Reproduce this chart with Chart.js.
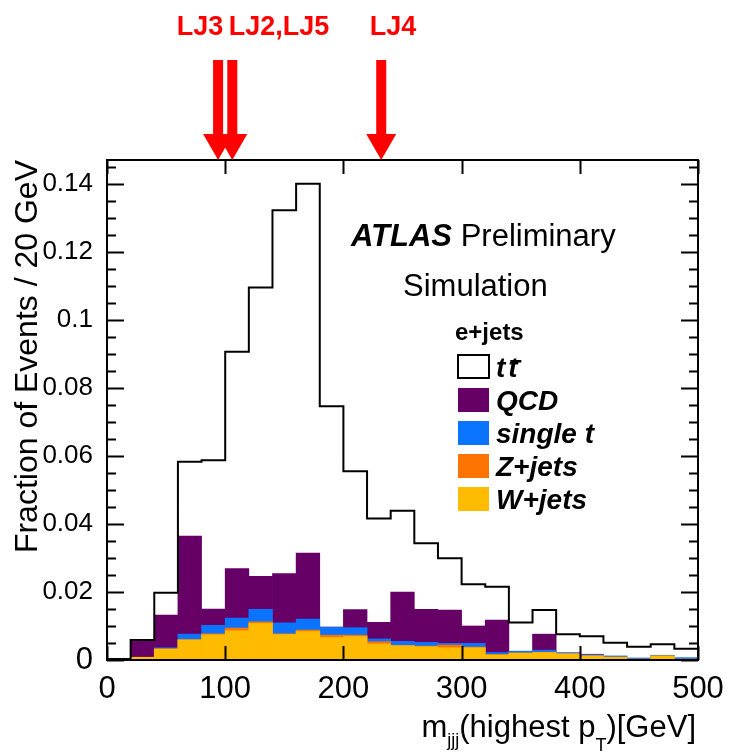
<!DOCTYPE html>
<html>
<head>
<meta charset="utf-8">
<script src="https://cdn.jsdelivr.net/npm/chart.js@4.4.1/dist/chart.umd.min.js"></script>
<style>
  html, body { margin: 0; padding: 0; background: #fff; }
  #wrap { width: 729px; height: 756px; }
</style>
</head>
<body>
<div id="wrap"><canvas id="c" width="729" height="756"></canvas></div>
<script>
// bin edges of m_jjj in GeV (20 GeV bins)
const binEdges = [0, 20, 40, 60, 80, 100, 120, 140, 160, 180, 200, 220, 240,
                  260, 280, 300, 320, 340, 360, 380, 400, 420, 440, 460, 480, 500];

// fraction of events per bin, one value per bin
const ttbar = [0.0003, 0.0059, 0.0198, 0.0583, 0.0587, 0.0906, 0.1095, 0.1322, 0.1400, 0.0746,
               0.0555, 0.0416, 0.0439, 0.0343, 0.0299, 0.0223, 0.0215, 0.0110, 0.0147, 0.0076,
               0.0070, 0.0051, 0.0039, 0.0046, 0.0033];
const qcd = [0, 0.0058, 0.0132, 0.0364, 0.0150, 0.0269, 0.0246, 0.0254, 0.0314, 0.0097,
             0.0148, 0.0111, 0.0200, 0.0149, 0.0147, 0.0100, 0.0117, 0, 0.0076, 0,
             0.0017, 0, 0, 0, 0];
const singleTop = [0.0003, 0.0008, 0.0036, 0.0076, 0.0102, 0.0123, 0.0149, 0.0109, 0.0120, 0.0096,
                   0.0095, 0.0062, 0.0055, 0.0052, 0.0049, 0.0049, 0.0022, 0.0026, 0.0029, 0.0022,
                   0.0016, 0.0012, 0.0006, 0.0014, 0.0007];
const zJets = [0.0003, 0.0008, 0.0033, 0.0060, 0.0077, 0.0094, 0.0112, 0.0077, 0.0088, 0.0073,
               0.0073, 0.0054, 0.0043, 0.0041, 0.0044, 0.0038, 0.0016, 0.0021, 0.0023, 0.0019,
               0.0013, 0.0009, 0.0003, 0.0012, 0.0003];
const wJets = [0.0003, 0.0008, 0.0032, 0.0059, 0.0074, 0.0086, 0.0108, 0.0075, 0.0084, 0.0066,
               0.0069, 0.0047, 0.0042, 0.0039, 0.0036, 0.0036, 0.0015, 0.0020, 0.0022, 0.0018,
               0.0012, 0.0008, 0.0002, 0.0012, 0.0002];

// reconstructed top mass arrows
const arrowMasses = [94, 106, 232];

const xTicks = [0, 100, 200, 300, 400, 500];
const yTicks = [0, 0.02, 0.04, 0.06, 0.08, 0.1, 0.12, 0.14];

const FONT = '"Liberation Sans", Arial, Helvetica, sans-serif';

function binData(vals) {
  return vals.map((v, i) => ({ x: (binEdges[i] + binEdges[i + 1]) / 2, y: v }));
}
function stepData(vals) {
  return binEdges.map((e, i) => ({ x: e, y: vals[Math.min(i, vals.length - 1)] }));
}

function barSet(label, vals, color, order) {
  return {
    type: 'bar', label: label, data: binData(vals),
    backgroundColor: color, borderWidth: 0, grouped: false,
    barPercentage: 1, categoryPercentage: 1, order: order
  };
}

const overlay = {
  id: 'overlay',
  afterDraw(chart) {
    const ctx = chart.ctx;
    const x = chart.scales.x, y = chart.scales.y;
    const a = chart.chartArea;
    ctx.save();
    ctx.strokeStyle = '#000';
    ctx.lineWidth = 2;
    // frame
    ctx.strokeRect(a.left, a.top, a.right - a.left, a.bottom - a.top);
    // y ticks, inward on both sides
    ctx.beginPath();
    for (let v = 0; v <= 0.1451; v += 0.005) {
      const py = Math.round(y.getPixelForValue(v)) + 0.5;
      const major = Math.abs(v / 0.02 - Math.round(v / 0.02)) < 1e-6;
      const len = major ? 17 : 9;
      ctx.moveTo(a.left, py); ctx.lineTo(a.left + len, py);
      ctx.moveTo(a.right, py); ctx.lineTo(a.right - len, py);
    }
    // x ticks
    xTicks.forEach(t => {
      const px = Math.round(x.getPixelForValue(t)) + 0.5;
      ctx.moveTo(px, a.bottom); ctx.lineTo(px, a.bottom - 14);
      ctx.moveTo(px, a.top); ctx.lineTo(px, a.top + 14);
    });
    ctx.stroke();

    // arrows
    ctx.fillStyle = '#ff0000';
    arrowMasses.forEach(m => {
      const px = x.getPixelForValue(m);
      ctx.fillRect(px - 5, 60, 10, 76);
      ctx.beginPath();
      ctx.moveTo(px - 15, 134); ctx.lineTo(px + 15, 134); ctx.lineTo(px, a.top); ctx.closePath();
      ctx.fill();
    });
    ctx.font = 'bold 27px ' + FONT;
    ctx.textBaseline = 'alphabetic';
    ctx.textAlign = 'center';
    ctx.fillText('LJ3', 200, 35);
    ctx.fillText('LJ2,LJ5', 279, 35);
    ctx.fillText('LJ4', 393, 35);

    // ATLAS label
    ctx.fillStyle = '#000';
    ctx.textAlign = 'left';
    ctx.font = 'italic bold 31px ' + FONT;
    ctx.fillText('ATLAS', 351, 246);
    const wA = ctx.measureText('ATLAS ').width;
    ctx.font = '31px ' + FONT;
    ctx.fillText('Preliminary', 351 + wA, 246);
    ctx.fillText('Simulation', 403, 296);

    // legend
    ctx.font = 'bold 24px ' + FONT;
    ctx.fillText('e+jets', 455, 340);
    const ds = chart.data.datasets;
    const entries = [ds[4], ds[3], ds[2], ds[1]];
    ctx.lineWidth = 2;
    ctx.strokeStyle = '#000';
    ctx.fillStyle = '#fff';
    ctx.fillRect(458, 355, 31, 23);
    ctx.strokeRect(458, 355, 31, 23);
    ctx.font = 'italic bold 28px ' + FONT;
    ctx.fillStyle = '#000';
    ctx.fillText('t', 496, 377);
    const wt = ctx.measureText('t').width;
    ctx.fillText('t', 496 + wt + 3, 377);
    ctx.fillRect(496 + wt + 5, 360, 11, 2.5);
    entries.forEach((d, i) => {
      const top = 388 + i * 33;
      ctx.fillStyle = d.backgroundColor;
      ctx.fillRect(458, top, 31, 24);
      ctx.fillStyle = '#000';
      ctx.fillText(d.label, 496, top + 22);
    });

    // x title with subscripts
    const parts = [
      { t: 'm', s: 31, dy: 0 }, { t: 'jjj', s: 18, dy: 9 },
      { t: '(highest p', s: 31, dy: 0 }, { t: 'T', s: 18, dy: 14 },
      { t: ')[GeV]', s: 31, dy: 0 }
    ];
    let total = 0;
    parts.forEach(p => { ctx.font = p.s + 'px ' + FONT; p.w = ctx.measureText(p.t).width; total += p.w; });
    let cx = 696 - total;
    parts.forEach(p => { ctx.font = p.s + 'px ' + FONT; ctx.fillText(p.t, cx, 737 + p.dy); cx += p.w; });

    // y title
    ctx.save();
    ctx.translate(37, a.top);
    ctx.rotate(-Math.PI / 2);
    ctx.textAlign = 'right';
    ctx.font = '32px ' + FONT;
    ctx.fillText('Fraction of Events / 20 GeV', 0, 0);
    ctx.restore();

    ctx.restore();
  }
};

new Chart(document.getElementById('c'), {
  type: 'bar',
  data: {
    datasets: [
      {
        type: 'line', label: 'ttbar', data: stepData(ttbar), stepped: 'before',
        borderColor: '#000', borderWidth: 2, pointRadius: 0, fill: false, order: 0
      },
      barSet('W+jets', wJets, '#ffbb00', 1),
      barSet('Z+jets', zJets, '#ff7300', 2),
      barSet('single t', singleTop, '#0a74ff', 3),
      barSet('QCD', qcd, '#660066', 4)
    ]
  },
  options: {
    responsive: false,
    animation: false,
    layout: { padding: { left: 0, right: 31, top: 160, bottom: 0 } },
    plugins: { legend: { display: false }, tooltip: { enabled: false } },
    scales: {
      x: {
        type: 'linear', min: 0, max: 500, offset: false,
        grid: { display: false }, border: { display: false },
        afterBuildTicks: s => { s.ticks = xTicks.map(v => ({ value: v })); },
        ticks: { padding: 3, color: '#000', maxRotation: 0, autoSkip: false,
                 font: { family: FONT, size: 31 } },
        afterFit: s => { s.height = 96; }
      },
      y: {
        type: 'linear', min: 0, max: 0.147,
        grid: { display: false }, border: { display: false },
        afterBuildTicks: s => { s.ticks = yTicks.map(v => ({ value: v })); },
        ticks: {
          padding: 6, color: '#000', autoSkip: false,
          font: c => ({ family: FONT, size: c.index === 0 ? 31 : 26 }),
          callback: v => String(+v.toFixed(2))
        },
        afterFit: s => { s.width = 107; }
      }
    }
  },
  plugins: [overlay]
});
</script>
</body>
</html>
